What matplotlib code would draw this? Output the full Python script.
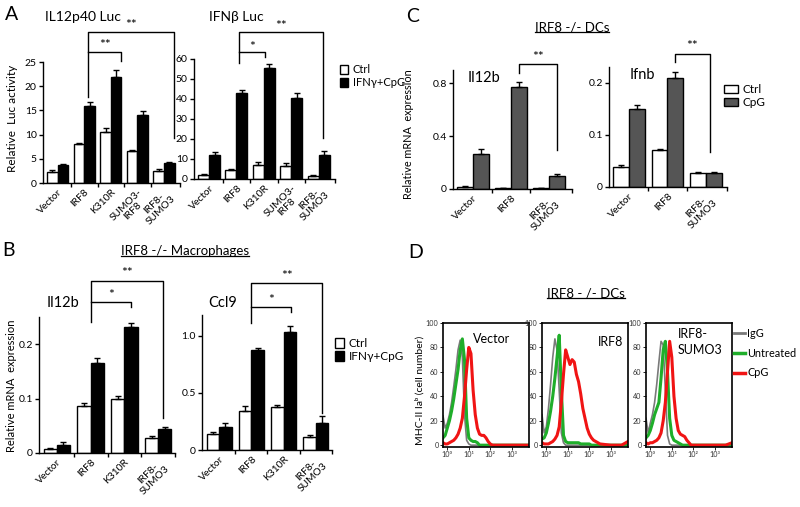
import numpy as np
import matplotlib
matplotlib.use("Agg")
import matplotlib.pyplot as plt
from matplotlib.lines import Line2D
from matplotlib.patches import Patch

plt.rcParams['font.family'] = ['Lato', 'DejaVu Sans']
plt.rcParams['axes.linewidth'] = 1.0

# ---------------- data ----------------
a_groups = ["Vector", "IRF8", "K310R", "SUMO3-\nIRF8", "IRF8-\nSUMO3"]
il12p40_ctrl = [2.3, 8.0, 10.6, 6.6, 2.5]
il12p40_ctrl_err = [0.3, 0.3, 0.8, 0.3, 0.3]
il12p40_stim = [3.7, 16.0, 22.0, 14.0, 4.1]
il12p40_stim_err = [0.3, 0.8, 1.3, 0.8, 0.3]
ifnb_luc_ctrl = [1.8, 4.5, 7.0, 6.5, 1.5]
ifnb_luc_ctrl_err = [0.6, 0.7, 1.5, 1.5, 0.6]
ifnb_luc_stim = [12.0, 43.0, 55.5, 40.6, 12.0]
ifnb_luc_stim_err = [1.5, 1.5, 2.0, 2.5, 2.0]

b_groups = ["Vector", "IRF8", "K310R", "IRF8-\nSUMO3"]
b_il12b_ctrl = [0.007, 0.087, 0.099, 0.027]
b_il12b_ctrl_err = [0.002, 0.005, 0.005, 0.004]
b_il12b_stim = [0.015, 0.166, 0.231, 0.045]
b_il12b_stim_err = [0.005, 0.009, 0.008, 0.003]
b_ccl9_ctrl = [0.14, 0.345, 0.38, 0.117]
b_ccl9_ctrl_err = [0.02, 0.04, 0.01, 0.015]
b_ccl9_stim = [0.205, 0.87, 1.03, 0.24]
b_ccl9_stim_err = [0.03, 0.02, 0.05, 0.06]

c_groups = ["Vector", "IRF8", "IRF8-\nSUMO3"]
c_il12b_ctrl = [0.013, 0.005, 0.004]
c_il12b_ctrl_err = [0.008, 0.002, 0.002]
c_il12b_cpg = [0.264, 0.772, 0.098]
c_il12b_cpg_err = [0.035, 0.038, 0.013]
c_ifnb_ctrl = [0.039, 0.070, 0.026]
c_ifnb_ctrl_err = [0.003, 0.003, 0.003]
c_ifnb_cpg = [0.149, 0.208, 0.026]
c_ifnb_cpg_err = [0.008, 0.013, 0.003]

# flow cytometry histograms (log10 fluorescence, % of max)
flow_log = [-0.2, -0.1, 0.0, 0.1, 0.2, 0.3, 0.4, 0.5, 0.6, 0.7, 0.8, 0.9, 1.0,
            1.1, 1.2, 1.3, 1.4, 1.5, 1.6, 1.7, 1.8, 1.9, 2.0, 2.1, 2.2, 2.3,
            2.4, 2.5, 3.0, 3.5, 3.8]
vec_igg = [24, 14, 18, 25, 35, 48, 62, 78, 86, 72, 25, 4, 1, 0, 0, 0, 0, 0, 0, 0,
           0, 0, 0, 0, 0, 0, 0, 0, 0, 0, 0]
vec_untr = [6, 8, 14, 20, 28, 38, 50, 62, 78, 87, 70, 22, 6, 4, 3, 3, 2, 0, 0, 0,
            0, 0, 0, 0, 0, 0, 0, 0, 0, 0, 0]
vec_cpg = [2, 1, 1, 2, 3, 4, 6, 9, 14, 22, 40, 62, 80, 75, 45, 25, 14, 9, 8, 8,
           6, 3, 1, 0, 0, 0, 0, 0, 0, 0, 0]
irf8_igg = [25, 10, 15, 30, 50, 72, 87, 78, 45, 10, 2, 0, 0, 0, 0, 0, 0, 0, 0, 0,
            0, 0, 0, 0, 0, 0, 0, 0, 0, 0, 0]
irf8_untr = [5, 6, 10, 18, 28, 40, 55, 72, 90, 45, 8, 3, 2, 2, 2, 2, 2, 2, 1, 1,
             1, 1, 1, 0, 0, 0, 0, 0, 0, 0, 0]
irf8_cpg = [2, 1, 1, 1, 2, 3, 5, 8, 15, 35, 58, 78, 72, 66, 70, 68, 58, 52, 42, 30,
            22, 14, 9, 6, 4, 3, 2, 1, 0, 0, 3]
sumo_igg = [22, 10, 18, 25, 35, 50, 68, 85, 82, 45, 8, 1, 0, 0, 0, 0, 0, 0, 0, 0,
            0, 0, 0, 0, 0, 0, 0, 0, 0, 0, 0]
sumo_untr = [6, 8, 12, 18, 25, 30, 35, 55, 78, 85, 60, 22, 8, 4, 3, 2, 1, 0, 0, 0,
             0, 0, 0, 0, 0, 0, 0, 0, 0, 0, 0]
sumo_cpg = [2, 1, 2, 2, 3, 4, 6, 10, 20, 35, 60, 85, 72, 40, 22, 12, 9, 8, 7, 4,
            2, 0, 0, 0, 0, 0, 0, 0, 0, 0, 2]

# ---------------- layout helpers ----------------
W, H = 800, 507
fig = plt.figure(figsize=(W / 100, H / 100), dpi=100)


def rect(x0, y0, x1, y1):
    return [x0 / W, 1 - y1 / H, (x1 - x0) / W, (y1 - y0) / H]


def fx(x):
    return x / W


def fy(y):
    return 1 - y / H


def bar_panel(ax, groups, ctrl, ctrl_err, stim, stim_err, stim_color, width,
              xlim, ylim, yticks, yticklabels):
    x = np.arange(len(groups))
    ax.bar(x - width / 2, ctrl, width, color='white', edgecolor='black',
           linewidth=1.0, zorder=2)
    ax.bar(x + width / 2, stim, width, color=stim_color, edgecolor='black',
           linewidth=1.0, zorder=2)
    z = np.zeros(len(groups))
    ax.errorbar(x - width / 2, ctrl, yerr=[z, ctrl_err], fmt='none',
                ecolor='black', elinewidth=1.0, capsize=2.5, capthick=1.0, zorder=3)
    ax.errorbar(x + width / 2, stim, yerr=[z, stim_err], fmt='none',
                ecolor='black', elinewidth=1.0, capsize=2.5, capthick=1.0, zorder=3)
    ax.set_xlim(*xlim)
    ax.set_ylim(*ylim)
    ax.spines['top'].set_visible(False)
    ax.spines['right'].set_visible(False)
    ax.set_yticks(yticks)
    ax.set_yticklabels(yticklabels)
    ax.tick_params(axis='y', length=3, width=1.0, labelsize=7.5, pad=1.5)
    ax.set_xticks(x)
    ax.set_xticklabels(groups, rotation=45, ha='right', va='top',
                       rotation_mode='anchor', fontsize=7.4, multialignment='center',
                       linespacing=1.05)
    ax.tick_params(axis='x', length=0, pad=3)
    bounds = list(x[:-1] + 0.5) + [xlim[1]]
    ax.set_xticks(bounds, minor=True)
    ax.tick_params(axis='x', which='minor', length=3, width=1.0)
    return x


def bracket(ax, x1, x2, y, y1_end, y2_end, label, label_y):
    ax.plot([x1, x1, x2, x2], [y1_end, y, y, y2_end], color='black', lw=1.0,
            clip_on=False, zorder=4)
    ax.text((x1 + x2) / 2, label_y, label, ha='center', va='center',
            fontsize=10, clip_on=False)


def legend_boxes(labels, colors, x, y, hw, hh, size=8.5):
    handles = [Patch(facecolor=c, edgecolor='black', linewidth=1.0) for c in colors]
    fig.legend(handles=handles, labels=labels, loc='upper left',
               bbox_to_anchor=(fx(x), fy(y)), frameon=False, fontsize=size,
               handlelength=hw, handleheight=hh, handletextpad=0.4,
               labelspacing=0.2, borderpad=0, borderaxespad=0)


def underlined(x, y, s, size=9.5):
    t = fig.text(fx(x), fy(y), s, ha='center', va='center', fontsize=size)
    return t


# ---------------- panel A ----------------
axA1 = fig.add_axes(rect(43, 62, 180, 183))
bar_panel(axA1, a_groups, il12p40_ctrl, il12p40_ctrl_err, il12p40_stim,
          il12p40_stim_err, 'black', 0.4, (-0.55, 4.6), (0, 25),
          [0, 5, 10, 15, 20, 25], ['0', '5', '10', '15', '20', '25'])
bracket(axA1, 1.14, 4.37, 31.2, 17.8, 9.2, '**', 32.6)
bracket(axA1, 1.14, 2.4, 27.1, 27.1, 25.3, '**', 28.5)
fig.text(fx(83), fy(17), 'IL12p40 Luc', ha='center', va='center', fontsize=10)
fig.text(fx(13), fy(118), 'Relative  Luc activity', rotation=90, ha='center',
         va='center', fontsize=8.5)

axA2 = fig.add_axes(rect(194, 59, 335, 179))
bar_panel(axA2, a_groups, ifnb_luc_ctrl, ifnb_luc_ctrl_err, ifnb_luc_stim,
          ifnb_luc_stim_err, 'black', 0.4, (-0.55, 4.6), (0, 60),
          [0, 10, 20, 30, 40, 50, 60], ['0', '10', '20', '30', '40', '50', '60'])
bracket(axA2, 1.1, 4.16, 73.5, 58, 20.5, '**', 76.5)
bracket(axA2, 1.1, 2.05, 63.5, 63.5, 61.0, '*', 66.0)
fig.text(fx(236), fy(17), 'IFNβ Luc', ha='center', va='center', fontsize=10)
legend_boxes(['Ctrl', 'IFNγ+CpG'], ['white', 'black'], 340, 64, 0.75, 0.9, 8.0)
fig.text(fx(12), fy(15), 'A', ha='center', va='center', fontsize=14)

# ---------------- panel B ----------------
axB1 = fig.add_axes(rect(39, 317, 175, 453))
bar_panel(axB1, b_groups, b_il12b_ctrl, b_il12b_ctrl_err, b_il12b_stim,
          b_il12b_stim_err, 'black', 0.39, (-0.53, 3.5), (0, 0.25),
          [0, 0.1, 0.2], ['0', '0.1', '0.2'])
bracket(axB1, 1.0, 3.15, 0.316, 0.24, 0.064, '**', 0.331)
bracket(axB1, 1.0, 2.2, 0.278, 0.278, 0.269, '*', 0.291)
fig.text(fx(63), fy(303), 'Il12b', ha='center', va='center', fontsize=10.5)
fig.text(fx(12), fy(386), 'Relative mRNA  expression', rotation=90,
         ha='center', va='center', fontsize=8)

axB2 = fig.add_axes(rect(202, 315, 332, 450))
bar_panel(axB2, b_groups, b_ccl9_ctrl, b_ccl9_ctrl_err, b_ccl9_stim,
          b_ccl9_stim_err, 'black', 0.39, (-0.53, 3.5), (0, 1.18),
          [0, 0.5, 1.0], ['0', '0.5', '1.0'])
bracket(axB2, 1.0, 3.2, 1.46, 1.11, 0.32, '**', 1.52)
bracket(axB2, 1.0, 2.23, 1.25, 1.25, 1.21, '*', 1.31)
fig.text(fx(223), fy(303), 'Ccl9', ha='center', va='center', fontsize=10.5)
legend_boxes(['Ctrl', 'IFNγ+CpG'], ['white', 'black'], 335, 338, 0.75, 0.9)
tB = underlined(185, 251, 'IRF8 -/- Macrophages')
fig.text(fx(9), fy(250), 'B', ha='center', va='center', fontsize=14)

# ---------------- panel C ----------------
gray_bar = '#555555'
axC1 = fig.add_axes(rect(453, 70, 572, 189))
bar_panel(axC1, c_groups, c_il12b_ctrl, c_il12b_ctrl_err, c_il12b_cpg,
          c_il12b_cpg_err, gray_bar, 0.42, (-0.52, 2.59), (0, 0.9),
          [0, 0.4, 0.8], ['0', '0.4', '0.8'])
bracket(axC1, 1.21, 2.21, 0.946, 0.878, 0.297, '**', 0.995)
axC1.text(0.3, 0.84, 'Il12b', ha='center', va='center', fontsize=10.5)
fig.text(fx(408), fy(134), 'Relative mRNA  expression', rotation=90,
         ha='center', va='center', fontsize=7.8)

axC2 = fig.add_axes(rect(609, 67, 727, 187))
bar_panel(axC2, c_groups, c_ifnb_ctrl, c_ifnb_ctrl_err, c_ifnb_cpg,
          c_ifnb_cpg_err, gray_bar, 0.41, (-0.52, 2.55), (0, 0.23),
          [0, 0.1, 0.2], ['0', '0.1', '0.2'])
bracket(axC2, 1.2, 2.1, 0.255, 0.24, 0.067, '**', 0.27)
axC2.text(0.35, 0.215, 'Ifnb', ha='center', va='center', fontsize=10.5)
legend_boxes(['Ctrl', 'CpG'], ['white', gray_bar], 724, 84, 1.2, 0.6)
tC = underlined(572, 27, 'IRF8 -/- DCs')
fig.text(fx(413), fy(17), 'C', ha='center', va='center', fontsize=14)

# ---------------- panel D ----------------
flow_x = 10 ** np.array(flow_log)
boxes = [(443, 529, 'Vector', vec_igg, vec_untr, vec_cpg, (492, 339)),
         (542, 628, 'IRF8', irf8_igg, irf8_untr, irf8_cpg, (611, 342)),
         (646, 732, 'IRF8-\nSUMO3', sumo_igg, sumo_untr, sumo_cpg, (700, 342))]
green = '#1fae2a'
red = '#f01414'
greyl = '#7a7a7a'
for x0, x1, name, g, u, c, tpos in boxes:
    ax = fig.add_axes(rect(x0, 323, x1, 447))
    ax.plot(flow_x, g, color=greyl, lw=1.2, label='IgG')
    ax.plot(flow_x, u, color=green, lw=2.2, label='Untreated')
    ax.plot(flow_x, c, color=red, lw=2.2, label='CpG')
    ax.set_xscale('log')
    ax.set_xlim(10 ** -0.2, 10 ** 3.8)
    ax.set_ylim(-1.5, 100)
    ax.set_xticks([1, 10, 100, 1000])
    ax.set_xticklabels(['10⁰', '10¹', '10²', '10³'])
    ax.minorticks_off()
    ax.set_yticks([0, 20, 40, 60, 80, 100])
    ax.set_yticklabels(['0', '20', '40', '60', '80', '100'])
    ax.tick_params(labelsize=5.2, length=2, width=0.6, pad=1.2, labelcolor='#333333')
    for s in ax.spines.values():
        s.set_linewidth(1.2)
    fig.text(fx(tpos[0]), fy(tpos[1]), name, ha='center', va='center', fontsize=9,
             multialignment='left', linespacing=1.3)

handles = [Line2D([], [], color=greyl, lw=2.0), Line2D([], [], color=green, lw=2.5),
           Line2D([], [], color=red, lw=2.5)]
fig.legend(handles=handles, labels=['IgG', 'Untreated', 'CpG'], loc='upper left',
           bbox_to_anchor=(fx(734), fy(328)), frameon=False, fontsize=7.8,
           handlelength=1.0, handletextpad=0.2, labelspacing=0.8, borderpad=0,
           borderaxespad=0)
fig.text(fx(420), fy(390), 'MHC-II Iaᵇ (cell number)', rotation=90, ha='center',
         va='center', fontsize=7.5)
tD = underlined(586, 293, 'IRF8 - /- DCs')
fig.text(fx(416), fy(252), 'D', ha='center', va='center', fontsize=14)

# underline titles
fig.canvas.draw()
r = fig.canvas.get_renderer()
inv = fig.transFigure.inverted()
for t in (tB, tC, tD):
    bb = t.get_window_extent(r)
    (xa, ya), (xb, yb) = inv.transform([(bb.x0, bb.y0), (bb.x1, bb.y1)])
    fig.add_artist(Line2D([xa, xb], [ya + 0.002, ya + 0.002], color='black',
                          lw=0.9, transform=fig.transFigure))

fig.savefig('out.png', dpi=100)
